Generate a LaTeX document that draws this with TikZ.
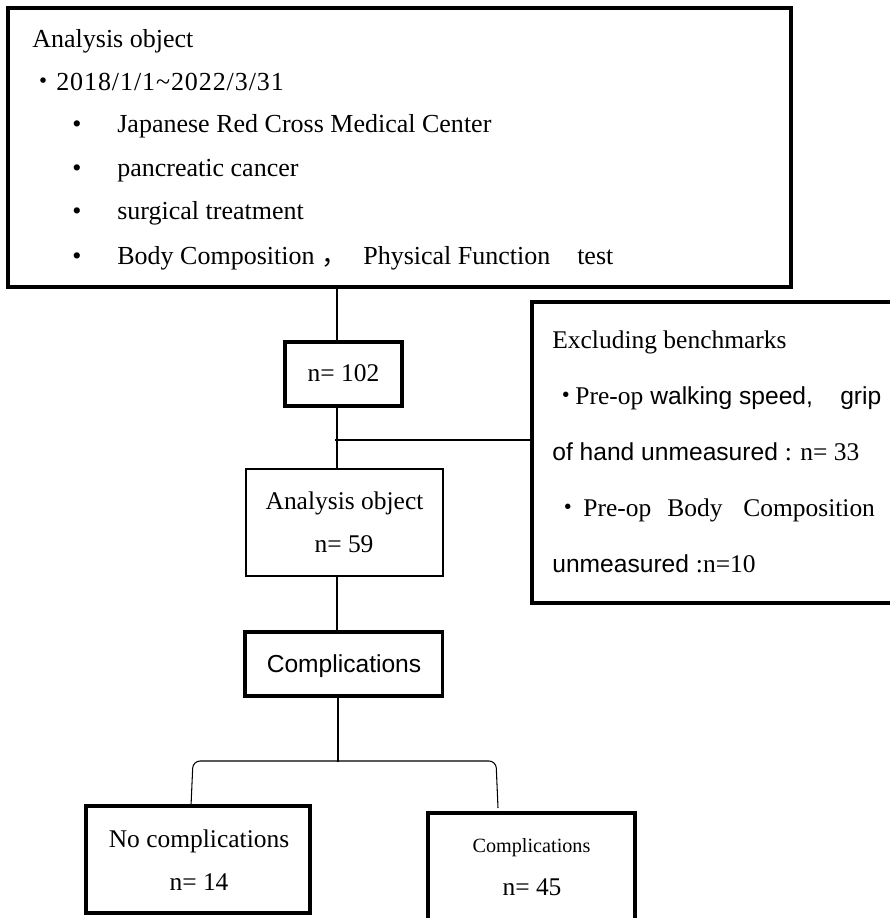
\documentclass[tikz,border=0pt]{standalone}
\usepackage{fontspec}
\setmainfont{Liberation Serif}
\setsansfont{Liberation Sans}
\newfontfamily\cjk{Noto Sans CJK JP}

\begin{document}
\begin{tikzpicture}[x=0.02cm, y=-0.02cm,
  box/.style={draw, line width=1.8pt, inner sep=0pt},
  link/.style={line width=0.6pt},
  txt/.style={anchor=base west, inner sep=0pt, font=\fontsize{14.5}{17}\selectfont},
  ctxt/.style={anchor=base, inner sep=0pt, font=\fontsize{14.5}{17}\selectfont},
  toptxt/.style={txt, font=\fontsize{14.8}{17}\selectfont}]
  \useasboundingbox (0,0) rectangle (889,918);
  % boxes
  \node[box, line width=2pt, minimum width=15.66cm, minimum height=5.58cm] (obj) at (399.5,147.5) {};
  \node[box, minimum width=2.34cm, minimum height=1.28cm] (n102) at (343.5,374) {};
  \node[box, minimum width=7.36cm, minimum height=6.02cm] (excl) at (716,452.5) {};
  \node[box, line width=1.6pt, minimum width=3.94cm, minimum height=2.14cm] (anal) at (344.5,522.5) {};
  \node[box, minimum width=3.95cm, minimum height=1.28cm] (comp) at (343.75,664) {};
  \node[box, minimum width=4.48cm, minimum height=2.14cm] (nocomp) at (198,859.5) {};
  \node[box, minimum width=4.14cm, minimum height=2.24cm] (yescomp) at (531.5,869) {};
  % connectors
  \coordinate (spine) at (337,0);
  \coordinate (junc) at (335,440);
  \coordinate (fork) at (338,762);
  \coordinate (legL) at (191,806);
  \coordinate (legR) at (498,808);
  \draw[link] (obj.south -| spine) -- (n102.north -| spine);
  \draw[link] (n102.south -| spine) -- (anal.north -| spine);
  \draw[link] (junc) -- (junc -| excl.west);
  \draw[link] (anal.south -| spine) -- (comp.north -| spine);
  \draw[link] (comp.south -| fork) -- (fork);
  \draw[link, rounded corners=4pt] (legL) -- (193,761) -- (496,761) -- (legR);
  % top box text
  \node[toptxt] (objtitle) at (32,48) {Analysis object};
  \node[toptxt] (period) at (30,91) {{\cjk ・}\addfontfeature{LetterSpace=3.5}2018/1/1\textasciitilde2022/3/31};
  \node[ctxt, toptxt, anchor=base] (b1) at (77,133) {\textbullet};
  \node[ctxt, toptxt, anchor=base] (b2) at (77,177) {\textbullet};
  \node[ctxt, toptxt, anchor=base] (b3) at (77,220) {\textbullet};
  \node[ctxt, toptxt, anchor=base] (b4) at (77,265) {\textbullet};
  \node[toptxt] (crit1) at (117,133) {Japanese Red Cross Medical Center};
  \node[toptxt] (crit2) at (117,177) {pancreatic cancer};
  \node[toptxt] (crit3) at (117,220) {surgical treatment};
  \node[toptxt] (crit4) at (117,265) {\makebox[4.92cm][l]{Body Composition {\cjk ，}}\makebox[4.28cm][l]{Physical Function}test};
  % exclusion text
  \node[txt] (ex1) at (552,348) {Excluding benchmarks};
  \node[txt] (ex2) at (552,404) {\hspace{0.2cm}\makebox[0.14cm]{\cjk ・}\hspace{0.12cm}\makebox[1.5cm][l]{Pre-op}\makebox[3.8cm][l]{\sffamily\fontsize{14}{17}\selectfont walking speed,}{\sffamily\fontsize{14}{17}\selectfont grip}};
  \node[txt] (ex3) at (552,460) {{\sffamily\fontsize{14}{17}\selectfont of hand unmeasured }: n= 33};
  \node[txt] (ex4) at (552,516) {\makebox[0.62cm]{\cjk ・}\makebox[1.68cm][l]{Pre-op}\makebox[1.52cm][l]{Body}Composition};
  \node[txt] (ex5) at (552,572) {{\sffamily\fontsize{14}{17}\selectfont unmeasured }:n=10};
  % flow box text
  \node[ctxt] (n102txt) at (343.5,381) {n= 102};
  \node[ctxt] (analtxt) at (344.5,509) {Analysis object};
  \node[ctxt] (analn) at (344,552) {n= 59};
  \node[ctxt, font=\sffamily\fontsize{14}{17}\selectfont] (comptxt) at (344,672) {Complications};
  \node[ctxt] (nocomptxt) at (199,847) {No complications};
  \node[ctxt] (nocompn) at (199,890) {n= 14};
  \node[ctxt, font=\fontsize{11.5}{14}\selectfont] (yescomptxt) at (531.5,852) {Complications};
  \node[ctxt] (yescompn) at (532,895) {n= 45};
\end{tikzpicture}
\end{document}
